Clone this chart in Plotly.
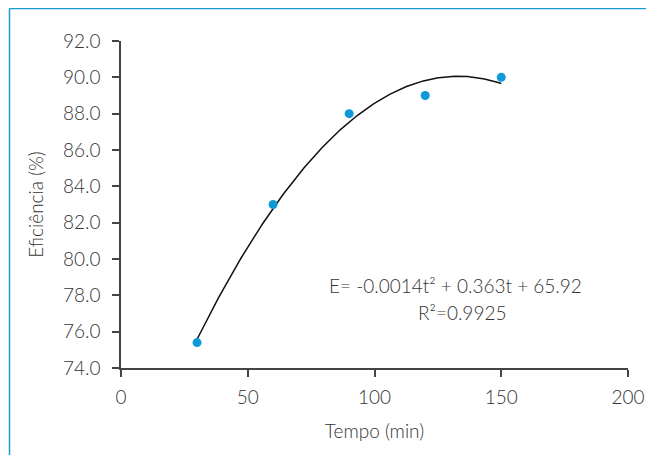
import numpy as np
import plotly.graph_objects as go

tempo = [30, 60, 90, 120, 150]
eficiencia = [75.4, 83.0, 88.0, 89.0, 90.0]
y_ticks = [74, 76, 78, 80, 82, 84, 86, 88, 90, 92]
x_ticks = [0, 50, 100, 150, 200]
eq_text = "E= -0.0014t² + 0.363t + 65.92"
r2_text = "R²=0.9925"

# quadratic trendline fitted to the data points
coef = np.polyfit(tempo, eficiencia, 2)
t_fit = np.linspace(min(tempo), max(tempo), 200)
e_fit = np.polyval(coef, t_fit)

FONT = "Lato"
W = 300
SZ = 19
TXT = "#333333"
BLUE = "#1a9ad6"

# page has an 8px body margin: figure starts at (8, 8) in the window
L, T = 113, 33
PW, PH = 507, 327
FW, FH = 646, 447

def px_x(px):
    return (px - 8 - L) / PW

def px_y(py):
    return 1 - (py - 8 - T) / PH

fig = go.Figure()
fig.add_trace(go.Scatter(x=t_fit, y=e_fit, mode="lines",
                         line=dict(color="#111111", width=1.5),
                         hoverinfo="skip", showlegend=False))
fig.add_trace(go.Scatter(x=tempo, y=eficiencia, mode="markers",
                         marker=dict(color="#0e9ad6", size=9),
                         showlegend=False))

fig.add_annotation(x=131.8, y=78.52, text=eq_text, showarrow=False,
                   font=dict(family=FONT, size=SZ, color=TXT, weight=W))
fig.add_annotation(x=134.5, y=77.03, text=r2_text, showarrow=False,
                   font=dict(family=FONT, size=SZ, color=TXT, weight=W))

# blue frame (left and top)
fig.add_shape(type="line", xref="paper", yref="paper",
              x0=px_x(9.5), x1=px_x(9.5), y0=px_y(8.5), y1=px_y(470),
              line=dict(color=BLUE, width=1.5))
fig.add_shape(type="line", xref="paper", yref="paper",
              x0=px_x(9.5), x1=px_x(670), y0=px_y(8.5), y1=px_y(8.5),
              line=dict(color=BLUE, width=1.5))

tf = dict(family=FONT, size=SZ, color=TXT, weight=W)
fig.update_layout(
    width=FW, height=FH,
    margin=dict(l=L, r=FW - L - PW, t=T, b=FH - T - PH, autoexpand=False),
    plot_bgcolor="white", paper_bgcolor="white",
    font=tf,
    xaxis=dict(range=[0, 200], tickvals=x_ticks, showgrid=False, zeroline=False,
               showline=True, linecolor="#444444", linewidth=1.5,
               ticks="outside", ticklen=7, tickcolor="#444444", tickwidth=1.5,
               ticklabelstandoff=4,
               title=dict(text="Tempo (min)", standoff=18, font=tf),
               tickfont=tf),
    yaxis=dict(range=[74, 92], tickvals=y_ticks, tickformat=".1f",
               showgrid=False, zeroline=False,
               showline=True, linecolor="#444444", linewidth=1.5,
               ticks="outside", ticklen=7, tickcolor="#444444", tickwidth=1.5,
               ticklabelstandoff=8,
               title=dict(text="Eficiência (%)", standoff=14, font=tf),
               tickfont=tf),
)

fig.write_html("out.html")
